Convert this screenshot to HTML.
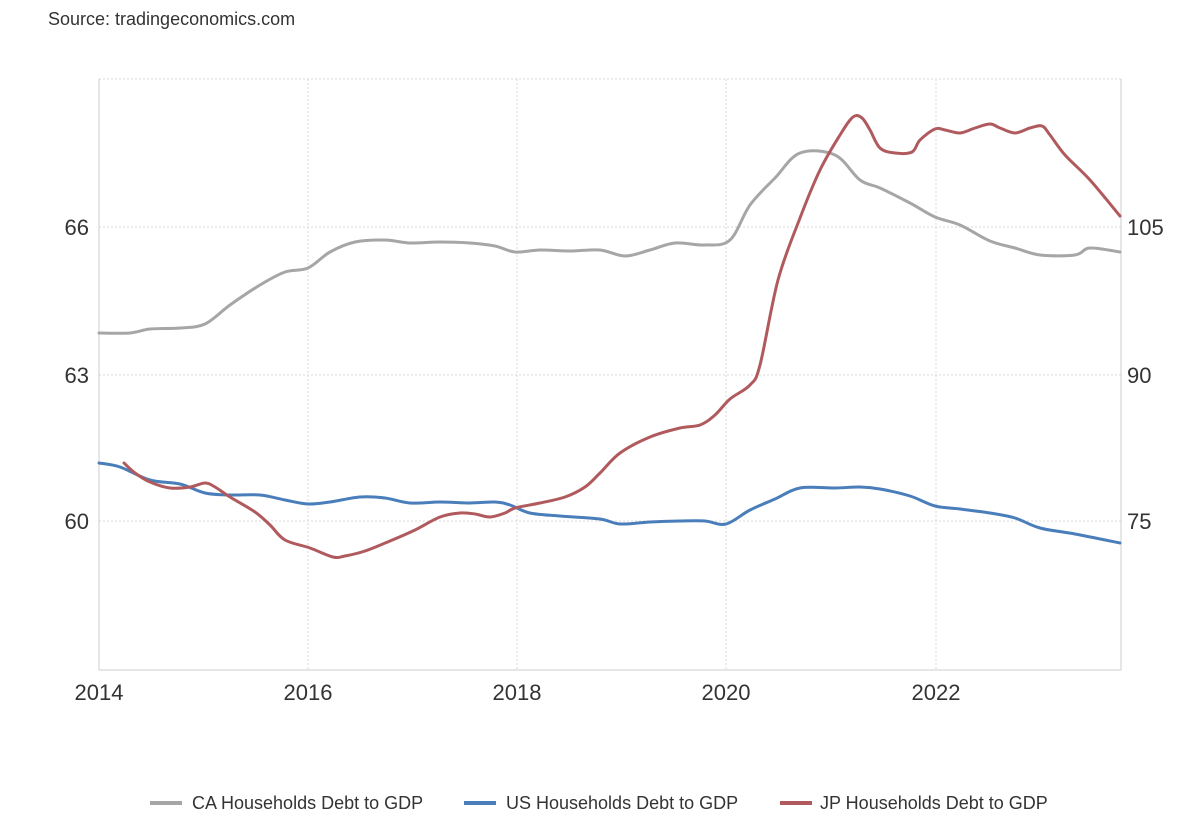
<!DOCTYPE html>
<html><head><meta charset="utf-8"><style>
html,body{margin:0;padding:0;background:#fff;}
svg{display:block;font-family:"Liberation Sans",Arial,sans-serif;}
</style></head><body>
<svg width="1200" height="820" viewBox="0 0 1200 820" xmlns="http://www.w3.org/2000/svg">
<rect width="1200" height="820" fill="#fff"/>
<text x="48" y="25" font-size="18" fill="#333">Source: tradingeconomics.com</text>
<g stroke="#d8d8d8" stroke-width="1" stroke-dasharray="2,2" fill="none">
<line x1="99" y1="79" x2="1121" y2="79"/>
<line x1="99" y1="227" x2="1121" y2="227"/>
<line x1="99" y1="375" x2="1121" y2="375"/>
<line x1="99" y1="521" x2="1121" y2="521"/>
<line x1="308" y1="79" x2="308" y2="670"/>
<line x1="517" y1="79" x2="517" y2="670"/>
<line x1="726" y1="79" x2="726" y2="670"/>
<line x1="936" y1="79" x2="936" y2="670"/>
</g>
<g stroke="#cccccc" stroke-width="1" fill="none">
<line x1="99" y1="79" x2="99" y2="670"/>
<line x1="1121" y1="79" x2="1121" y2="670"/>
<line x1="99" y1="670" x2="1121" y2="670"/>
</g>
<g font-size="22" fill="#333">
<text x="89" y="235" text-anchor="end">66</text>
<text x="89" y="383" text-anchor="end">63</text>
<text x="89" y="529" text-anchor="end">60</text>
<text x="1127" y="235">105</text>
<text x="1127" y="383">90</text>
<text x="1127" y="529">75</text>
<text x="99" y="700" text-anchor="middle">2014</text>
<text x="308" y="700" text-anchor="middle">2016</text>
<text x="517" y="700" text-anchor="middle">2018</text>
<text x="726" y="700" text-anchor="middle">2020</text>
<text x="936" y="700" text-anchor="middle">2022</text>
</g>
<g fill="none" stroke-width="3" stroke-linejoin="round" stroke-linecap="round">
<path id="ca" stroke="#a6a6a6" data-p="99,333 130,333 150,329 180,328 205,324 230,305 260,285 285,272 308,268 330,252 355,242 385,240 410,243 440,242 470,243 495,246 515,252 540,250 570,251 600,250 625,256 650,250 675,243 705,245 730,240 750,205 775,178 800,153 835,155 860,180 880,188 910,203 935,217 960,225 990,241 1015,248 1040,255 1075,255 1090,248 1120,252"/>
<path id="us" stroke="#4a7ebb" data-p="99,463 120,467 150,480 180,484 205,493 230,495 260,495 285,500 308,504 330,502 360,497 385,498 410,503 440,502 470,503 495,502 510,505 530,513 560,516 600,519 620,524 650,522 680,521 705,521 726,524 750,510 775,499 800,488 835,488 860,487 880,489 910,496 935,506 960,509 990,513 1015,518 1040,528 1075,534 1120,543"/>
<path id="jp" stroke="#b05a5e" data-p="124,463 135,473 150,482 170,488 190,487 205,483 215,487 230,497 255,512 270,525 285,540 310,548 333,557 345,556 365,551 390,541 415,530 440,517 460,513 475,514 490,517 505,513 515,508 540,503 565,497 585,487 600,473 620,453 650,437 680,428 700,425 715,415 730,399 750,385 760,365 778,280 800,218 820,170 840,135 853,117 862,118 870,130 880,148 895,153 912,152 920,140 935,129 945,130 960,133 975,128 990,124 1000,128 1015,133 1030,128 1042,126 1050,135 1065,155 1090,180 1120,216"/>
</g>
<g font-size="18" fill="#333">
<line x1="150" y1="803" x2="182" y2="803" stroke="#a6a6a6" stroke-width="4"/>
<text x="192" y="809">CA Households Debt to GDP</text>
<line x1="464" y1="803" x2="496" y2="803" stroke="#4a7ebb" stroke-width="4"/>
<text x="506" y="809">US Households Debt to GDP</text>
<line x1="780" y1="803" x2="812" y2="803" stroke="#b05a5e" stroke-width="4"/>
<text x="820" y="809">JP Households Debt to GDP</text>
</g>
</svg>
<script>
['ca','us','jp'].forEach(function(id){
  var el=document.getElementById(id);
  var p=el.getAttribute('data-p').trim().split(/\s+/).map(function(s){return s.split(',').map(Number);});
  var d='M'+p[0][0]+','+p[0][1];
  for(var i=0;i<p.length-1;i++){
    var p0=p[i-1]||p[i],p1=p[i],p2=p[i+1],p3=p[i+2]||p2,t=6;
    d+=' C'+(p1[0]+(p2[0]-p0[0])/t)+','+(p1[1]+(p2[1]-p0[1])/t)+' '+(p2[0]-(p3[0]-p1[0])/t)+','+(p2[1]-(p3[1]-p1[1])/t)+' '+p2[0]+','+p2[1];
  }
  el.setAttribute('d',d);
  el.removeAttribute('data-p');
});
</script>
</body></html>
